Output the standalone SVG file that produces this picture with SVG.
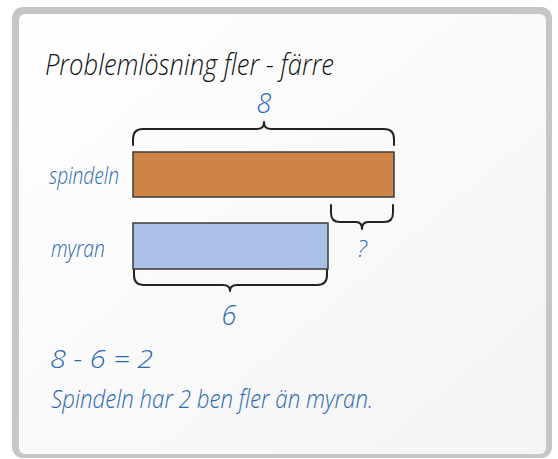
<svg xmlns="http://www.w3.org/2000/svg" width="558" height="459" viewBox="0 0 558 459">
<defs>
<linearGradient id="bg" x1="0" y1="0" x2="1" y2="1">
<stop offset="0" stop-color="#ffffff"/>
<stop offset="1" stop-color="#f4f4f4"/>
</linearGradient>
<style>
.hw{font-family:"Open Sans","Liberation Sans",sans-serif;font-style:italic;font-weight:300}
.blue{fill:#2a68b6}
.brace{fill:none;stroke:#222;stroke-width:2;stroke-linecap:round;stroke-linejoin:round}
.bar{stroke:#3a3a3a;stroke-width:1.5}
</style>
</defs>
<g id="frame">
<rect x="12" y="7" width="540" height="451" rx="11" fill="#c6c6c6"/>
<rect x="19" y="14" width="527" height="440" rx="6" fill="url(#bg)"/>
</g>
<g id="title">
<text class="hw" x="45" y="75" font-size="29" fill="#111" textLength="289" lengthAdjust="spacingAndGlyphs">Problemlösning fler - färre</text>
</g>
<g id="spindeln">
<text class="hw blue" x="49" y="184" font-size="24" textLength="70" lengthAdjust="spacingAndGlyphs">spindeln</text>
<rect class="bar" x="133" y="152" width="261" height="45" fill="#cd8446"/>
</g>
<g id="myran">
<text class="hw blue" x="51" y="257" font-size="24" textLength="54" lengthAdjust="spacingAndGlyphs">myran</text>
<rect class="bar" x="133" y="223" width="195" height="46" fill="#a9c1e6"/>
</g>
<g id="connectors">
<path class="brace" d="M133 145 V139 Q133 129 143 129 H257 Q264 129 264 122 Q264 129 271 129 H384 Q394 129 394 139 V145"/>
<path class="brace" d="M331 205 V213 Q331 222 340 222 H356 Q362 222 362 229 Q362 222 368 222 H384 Q393 222 393 213 V205"/>
<path class="brace" d="M134 270 V275 Q134 285 144 285 H223 Q230 285 230 291 Q230 285 237 285 H317 Q327 285 327 275 V270"/>
</g>
<g id="labels">
<text class="hw blue" x="264" y="113" font-size="27" text-anchor="middle">8</text>
<text class="hw blue" x="362" y="257" font-size="24" text-anchor="middle">?</text>
<text class="hw blue" x="229" y="325" font-size="27" text-anchor="middle">6</text>
</g>
<g id="answer">
<text class="hw blue" x="50" y="368" font-size="25" textLength="103" lengthAdjust="spacingAndGlyphs">8 - 6 = 2</text>
<text class="hw blue" x="51" y="408" font-size="25" textLength="322" lengthAdjust="spacingAndGlyphs">Spindeln har 2 ben fler än myran.</text>
</g>
</svg>
